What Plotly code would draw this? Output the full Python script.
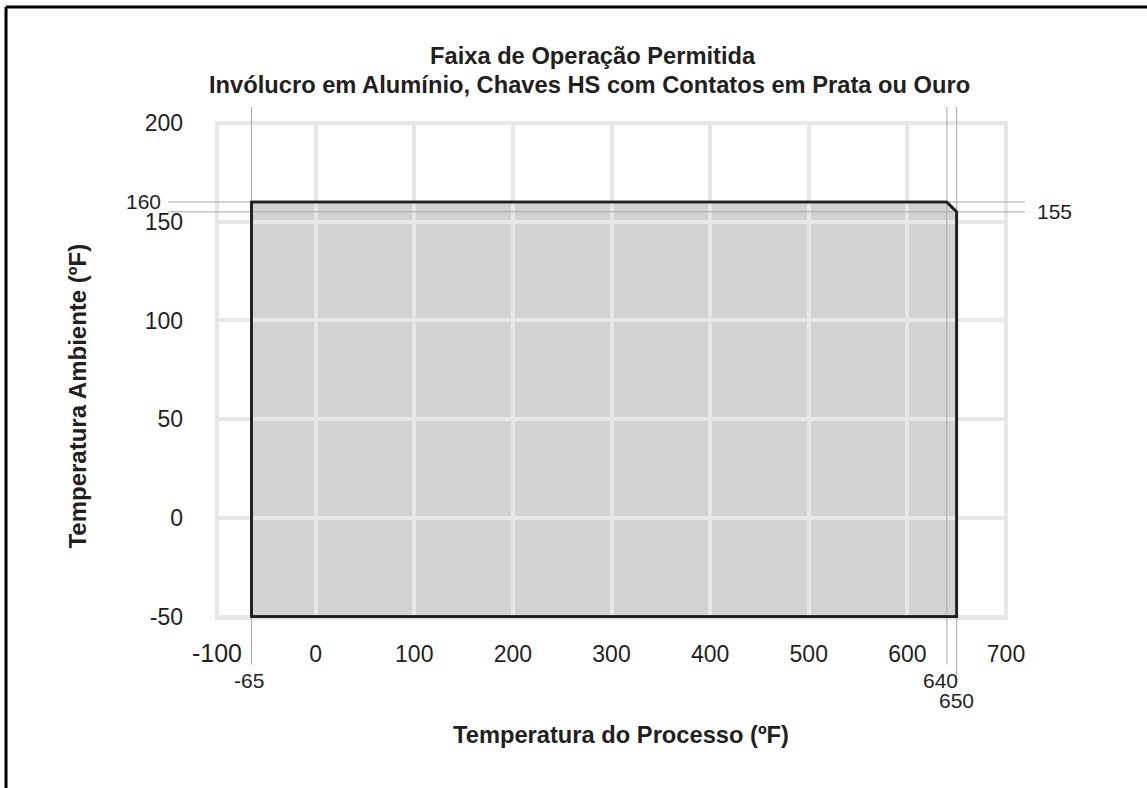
import plotly.graph_objects as go

# ---- data ----
process_temp = [-65, -65, 640, 650, 650, -65]      # ºF, outline of allowed region (x)
ambient_temp = [-50, 160, 160, 155, -50, -50]      # ºF, outline of allowed region (y)

x_ticks = [-100, 0, 100, 200, 300, 400, 500, 600, 700]
y_ticks = [-50, 0, 50, 100, 150, 200]

x_marks = [-65, 640, 650]          # labelled process limits
x_mark_labels = ["-65", "640", "650"]
y_marks = [160, 155]               # labelled ambient limits
y_mark_labels = ["160", "155"]

title_lines = ["Faixa de Operação Permitida",
               "Invólucro em Alumínio, Chaves HS com Contatos em Prata ou Ouro"]
x_title = "Temperatura do Processo (ºF)"
y_title = "Temperatura Ambiente (ºF)"

# ---- style ----
FONT = "Liberation Sans, Arial, Helvetica, sans-serif"
TXT = "#231f20"
GRID = "#e6e7e8"
FILL = "#d1d2d4"
REF = "#a7a9ac"

fig = go.Figure()

# polygon path built from the data
path = "M " + " L ".join(f"{x},{y}" for x, y in zip(process_temp[:-1], ambient_temp[:-1])) + " Z"
shapes = [
    # filled region (below gridlines)
    dict(type="path", path=path, xref="x", yref="y", layer="below",
         fillcolor=FILL, line=dict(width=0)),
    # plot-area border
    dict(type="rect", xref="paper", yref="paper", x0=0, x1=1, y0=0, y1=1,
         layer="below", line=dict(color=GRID, width=4)),
    # outer frame (top and left)
    dict(type="line", xref="paper", yref="paper", x0=-0.2674, x1=1.185, y0=1.2342, y1=1.2342,
         line=dict(color="black", width=3), layer="above"),
    dict(type="line", xref="paper", yref="paper", x0=-0.2674, x1=-0.2674, y0=1.2342, y1=-0.3439,
         line=dict(color="black", width=3), layer="above"),
]

# reference lines
x_bottoms = [-0.0941, -0.0941, -0.128]
for xv, yb in zip(x_marks, x_bottoms):
    shapes.append(dict(type="line", xref="x", yref="paper", x0=xv, x1=xv, y0=yb, y1=1.0323,
                       line=dict(color=REF, width=1), layer="above"))
for yv in y_marks:
    shapes.append(dict(type="line", xref="paper", yref="y", x0=-0.0621, x1=1.0241, y0=yv, y1=yv,
                       line=dict(color=REF, width=1), layer="above"))

# outline drawn on top of the reference lines
shapes.append(dict(type="path", path=path, xref="x", yref="y", layer="above",
                   fillcolor="rgba(0,0,0,0)", line=dict(color=TXT, width=2.7)))

# outline trace (same data, underneath)
fig.add_trace(go.Scatter(x=process_temp, y=ambient_temp, mode="lines",
                         line=dict(color=TXT, width=2.7), hoverinfo="skip",
                         showlegend=False))

annotations = []
# x limit labels
x_label_pos = [(-3, -0.1264), (-6, -0.1264), (0, -0.1667)]
for xv, lab, (dx, yp) in zip(x_marks, x_mark_labels, x_label_pos):
    annotations.append(dict(x=xv, y=yp, xref="x", yref="paper", text=lab, showarrow=False,
                            xanchor="center", yanchor="middle", xshift=dx,
                            font=dict(family=FONT, size=21, color=TXT)))
# y limit labels
annotations.append(dict(x=-0.0684, y=y_marks[0], xref="paper", yref="y", text=y_mark_labels[0],
                        showarrow=False, xanchor="right", yanchor="middle",
                        font=dict(family=FONT, size=21, color=TXT)))
annotations.append(dict(x=1.0368, y=y_marks[1], xref="paper", yref="y", text=y_mark_labels[1],
                        showarrow=False, xanchor="left", yanchor="middle",
                        font=dict(family=FONT, size=21, color=TXT)))
# titles
annotations.append(dict(x=0.4766, y=1.1353, xref="paper", yref="paper", text=f"<b>{title_lines[0]}</b>",
                        showarrow=False, xanchor="center", yanchor="middle",
                        font=dict(family=FONT, size=23.7, color=TXT)))
annotations.append(dict(x=0.4715, y=1.0767, xref="paper", yref="paper", text=f"<b>{title_lines[1]}</b>",
                        showarrow=False, xanchor="center", yanchor="middle",
                        font=dict(family=FONT, size=23.7, color=TXT)))
annotations.append(dict(x=0.512, y=-0.2373, xref="paper", yref="paper", text=f"<b>{x_title}</b>",
                        showarrow=False, xanchor="center", yanchor="middle",
                        font=dict(family=FONT, size=23.7, color=TXT)))
annotations.append(dict(x=-0.1762, y=0.4493, xref="paper", yref="paper", text=f"<b>{y_title}</b>",
                        showarrow=False, xanchor="center", yanchor="middle", textangle=-90,
                        font=dict(family=FONT, size=24, color=TXT)))

x_ticktext = [f"<span style='font-size:25px'>{v}</span>" if v == x_ticks[0] else str(v) for v in x_ticks]
y_ticktext = [str(v) for v in y_ticks]

fig.update_layout(
    width=1147, height=788,
    margin=dict(l=217, r=141, t=123, b=169.6),
    paper_bgcolor="white", plot_bgcolor="white",
    showlegend=False,
    shapes=shapes, annotations=annotations,
    xaxis=dict(range=[-100, 700], tickvals=x_ticks, ticktext=x_ticktext,
               showgrid=True, gridcolor=GRID, gridwidth=3.5, zeroline=False,
               showline=False, ticks="", ticklabelstandoff=20,
               tickfont=dict(family=FONT, size=23, color=TXT), fixedrange=True),
    yaxis=dict(range=[-50.7, 200], tickvals=y_ticks, ticktext=y_ticktext,
               showgrid=True, gridcolor=GRID, gridwidth=3.5, zeroline=False,
               showline=False, ticks="", ticklabelstandoff=33,
               tickfont=dict(family=FONT, size=23, color=TXT), fixedrange=True),
)

fig.write_html("out.html", config={"displayModeBar": False},
               post_script="document.body.style.margin='0';document.body.style.overflow='hidden';")
